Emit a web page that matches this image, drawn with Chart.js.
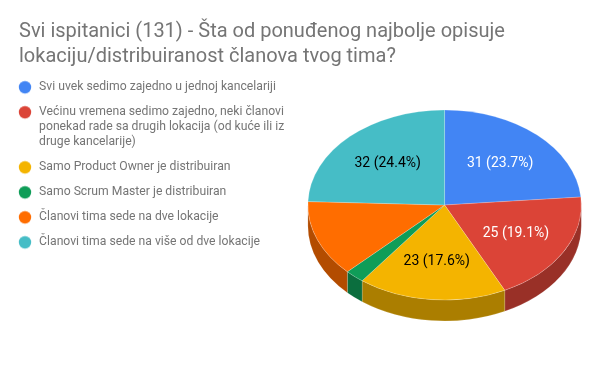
<!DOCTYPE html>
<html lang="en">
<head>
  <meta charset="UTF-8">
  <title>Lokacija tima</title>
  <script src="https://cdn.jsdelivr.net/npm/chart.js"></script>
  <style>
    body { margin: 0; background: #fff; }
    canvas { display: block; }
  </style>
</head>
<body>
  <canvas id="pie" width="600" height="371"></canvas>

  <script>
    const titleLines = [
      'Svi ispitanici (131) - Šta od ponuđenog najbolje opisuje',
      'lokaciju/distribuiranost članova tvog tima?'
    ];
    // every label is a list of lines, the legend then steps all rows by line height
    const categories = [
      ['Svi uvek sedimo zajedno u jednoj kancelariji'],
      ['Većinu vremena sedimo zajedno, neki članovi',
       'ponekad rade sa drugih lokacija (od kuće ili iz',
       'druge kancelarije)'],
      ['Samo Product Owner je distribuiran'],
      ['Samo Scrum Master je distribuiran'],
      ['Članovi tima sede na dve lokacije'],
      ['Članovi tima sede na više od dve lokacije']
    ];
    const values = [31, 25, 23, 3, 17, 32];
    const colors = ['#4285f4', '#db4437', '#f4b400', '#0f9d58', '#ff6d00', '#46bdc6'];
    const labelColors = ['#fff', '#fff', '#000', '#000', '#000', '#000'];

    const squash = 0.695;  // tilt of the pie
    const depth = 21;      // height of the side wall

    function darker(hex) {
      const n = parseInt(hex.slice(1), 16);
      const c = [n >> 16, (n >> 8) & 255, n & 255].map(v => Math.round(v * 0.7));
      return `rgb(${c.join(',')})`;
    }

    // legend dot, wider box than the dot so the text sits further right
    function dot(color) {
      const c = document.createElement('canvas');
      c.width = 16;
      c.height = 16;
      const g = c.getContext('2d');
      g.fillStyle = color;
      g.beginPath();
      g.arc(8, 8, 6.2, 0, Math.PI * 2);
      g.fill();
      return c;
    }

    const pie3d = {
      id: 'pie3d',
      afterLayout(chart) {
        // title starts further right than the legend's inner padding
        chart.titleBlock.left += 12;
        chart.titleBlock.top += 1;
        chart.legend.top += 3.2;
      },
      beforeDatasetDraw(chart) {
        const ctx = chart.ctx;
        const arcs = chart.getDatasetMeta(0).data;
        const { x, y, outerRadius: r } = arcs[0];
        ctx.save();
        // side wall, only the front half of the rim shows
        arcs.forEach((arc, i) => {
          const a = Math.max(arc.startAngle, 0);
          const b = Math.min(arc.endAngle, Math.PI);
          if (b <= a) return;
          ctx.beginPath();
          ctx.ellipse(x, y, r, r * squash, 0, a, b);
          ctx.ellipse(x, y + depth, r, r * squash, 0, b, a, true);
          ctx.closePath();
          ctx.fillStyle = darker(colors[i]);
          ctx.fill();
          ctx.strokeStyle = 'rgba(255,255,255,0.25)';
          ctx.lineWidth = 0.6;
          ctx.stroke();
        });
        ctx.translate(x, y);
        ctx.scale(1, squash);
        ctx.translate(-x, -y);
      },
      afterDatasetDraw(chart) {
        const ctx = chart.ctx;
        ctx.restore();
        const total = values.reduce((a, b) => a + b, 0);
        ctx.save();
        ctx.font = '14px Roboto';
        ctx.textAlign = 'center';
        ctx.textBaseline = 'middle';
        chart.getDatasetMeta(0).data.forEach((arc, i) => {
          if (values[i] / total < 0.15) return;
          const mid = (arc.startAngle + arc.endAngle) / 2;
          const px = arc.x + Math.cos(mid) * arc.outerRadius * 0.6;
          const py = arc.y + Math.sin(mid) * arc.outerRadius * 0.6 * squash;
          ctx.fillStyle = labelColors[i];
          ctx.fillText(`${values[i]} (${(values[i] / total * 100).toFixed(1)}%)`, px, py);
        });
        ctx.restore();
      }
    };

    new Chart(document.getElementById('pie'), {
      type: 'pie',
      data: {
        labels: categories,
        datasets: [{
          data: values,
          backgroundColor: colors,
          borderColor: 'rgba(255,255,255,0.4)',
          borderWidth: 0.6
        }]
      },
      options: {
        responsive: false,
        animation: false,
        layout: { padding: { left: 7, right: 5, top: 18, bottom: 29 } },
        plugins: {
          tooltip: { enabled: false },
          title: {
            display: true,
            text: titleLines,
            align: 'start',
            color: '#757575',
            font: { family: 'Roboto', size: 20, weight: 'normal', lineHeight: 1.25 },
            padding: { top: 0, bottom: 0 }
          },
          legend: {
            position: 'left',
            align: 'start',
            fullSize: false,
            labels: {
              color: '#757575',
              font: { family: 'Roboto', size: 12.2, lineHeight: 1.23 },
              padding: 10,
              usePointStyle: true,
              pointStyleWidth: 16,
              generateLabels(chart) {
                const items = Chart.overrides.pie.plugins.legend.labels.generateLabels(chart);
                return items.map((it, i) => ({ ...it, pointStyle: dot(colors[i]) }));
              }
            }
          }
        }
      },
      plugins: [pie3d]
    });
  </script>
</body>
</html>
